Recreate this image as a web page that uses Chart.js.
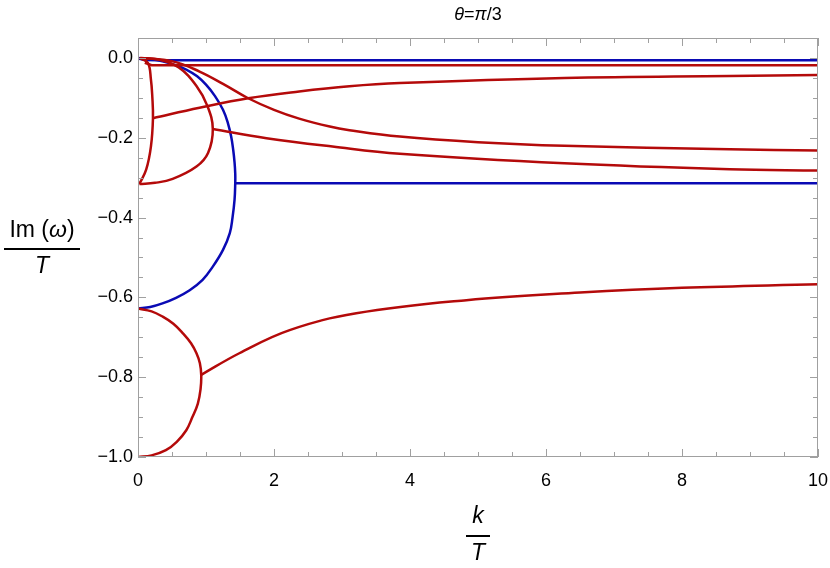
<!DOCTYPE html>
<html>
<head>
<meta charset="utf-8">
<script src="https://cdn.jsdelivr.net/npm/chart.js@4"></script>
<style>
  body { margin: 0; background: #fff; }
  #wrap { width: 830px; height: 568px; position: relative; }
</style>
</head>
<body>
<div id="wrap"><canvas id="qnm"></canvas></div>
<script>
// axis ranges and ticks
const xRange = [0, 10];
const yRange = [-1.0, 0.05];
const xMajorTicks = [0, 2, 4, 6, 8, 10];
const yMajorTicks = [-1.0, -0.8, -0.6, -0.4, -0.2, 0.0];
const xMinorStep = 0.5;
const yMinorStep = 0.05;

// blue branches, [k/T, Im(w)/T]
const blueTop = [[0, -0.001], [0.1, -0.005], [0.3, -0.006], [10, -0.006]];
const blueArc = [[0, 0], [0.2, -0.003], [0.36, -0.0085], [0.55, -0.018], [0.71, -0.029], [0.87, -0.046],
  [1.0, -0.067], [1.13, -0.095], [1.25, -0.13], [1.32, -0.162], [1.37, -0.197], [1.40, -0.23],
  [1.42, -0.262], [1.43, -0.29], [1.43, -0.314], [1.42, -0.355], [1.39, -0.40], [1.35, -0.439],
  [1.25, -0.481], [1.10, -0.523], [0.95, -0.556], [0.76, -0.582], [0.56, -0.601], [0.36, -0.615],
  [0.18, -0.624], [0, -0.628]];
const blueFlat = [[1.43, -0.314], [10, -0.314]];

// red branches
const redTop = [[0.1, -0.012], [0.2, -0.018], [10, -0.018]];
const redSmallArc = [[0.02, 0], [0.145, -0.0125], [0.19, -0.054], [0.21, -0.096], [0.22, -0.151],
  [0.19, -0.222], [0.12, -0.28], [0.02, -0.316]];
const redRise = [[0.22, -0.151], [0.905, -0.125], [1.62, -0.101], [2.37, -0.084], [3.11, -0.071],
  [3.85, -0.063], [6.27, -0.050], [8.7, -0.045], [10, -0.043]];
const redFall = [[0.03, 0], [0.51, -0.0085], [0.905, -0.034], [1.25, -0.065], [1.62, -0.101],
  [2.0, -0.13], [2.37, -0.152], [2.82, -0.172], [3.11, -0.181], [3.85, -0.197], [5.0, -0.211],
  [6.27, -0.220], [8.7, -0.229], [10, -0.232]];
const redBigArc = [[0.05, 0], [0.3, -0.004], [0.6, -0.024], [0.86, -0.07], [1.02, -0.12],
  [1.10, -0.178], [1.03, -0.238], [0.86, -0.272], [0.51, -0.303], [0.25, -0.313], [0.02, -0.316]];
const redMid = [[1.10, -0.178], [1.89, -0.201], [2.86, -0.222], [3.85, -0.240], [6.27, -0.264],
  [8.7, -0.279], [10, -0.282]];
const redLowArc = [[0, -0.628], [0.2, -0.635], [0.36, -0.648], [0.52, -0.666], [0.66, -0.690],
  [0.78, -0.715], [0.86, -0.740], [0.91, -0.765], [0.93, -0.795], [0.92, -0.83], [0.88, -0.866],
  [0.80, -0.90], [0.71, -0.933], [0.57, -0.962], [0.41, -0.983], [0.2, -0.996], [0, -1.0]];
const redLowRise = [[0.93, -0.794], [1.49, -0.740], [2.23, -0.682], [3.21, -0.640], [4.83, -0.607],
  [6.5, -0.588], [8.0, -0.576], [10, -0.567]];

const BLUE = '#0a0ab4';
const RED = '#b40a0a';
const FONT = '"Liberation Sans", Arial, sans-serif';

function series(points, color, tension) {
  return {
    data: points.map(p => ({ x: p[0], y: p[1] })),
    borderColor: color,
    borderWidth: 2.5,
    pointRadius: 0,
    showLine: true,
    fill: false,
    tension: tension
  };
}

const datasets = [
  series(redTop, RED, 0),
  series(redSmallArc, RED, 0.4),
  series(redRise, RED, 0.4),
  series(redFall, RED, 0.4),
  series(redBigArc, RED, 0.4),
  series(redMid, RED, 0.4),
  series(redLowArc, RED, 0.4),
  series(redLowRise, RED, 0.4),
  series(blueTop, BLUE, 0),
  series(blueArc, BLUE, 0.4),
  series(blueFlat, BLUE, 0)
];

function fmtY(v) {
  if (Math.abs(v) < 1e-9) return '0.0';
  return v.toFixed(1).replace('-', '\u2212');
}

// draw a row of (text, italic) pieces centred on cx
function drawPieces(ctx, parts, size, cx, cy) {
  let w = 0;
  parts.forEach(p => {
    ctx.font = (p[1] ? 'italic ' : '') + size + 'px ' + FONT;
    w += ctx.measureText(p[0]).width;
  });
  let x = cx - w / 2;
  ctx.textAlign = 'left';
  parts.forEach(p => {
    ctx.font = (p[1] ? 'italic ' : '') + size + 'px ' + FONT;
    ctx.fillText(p[0], x, cy);
    x += ctx.measureText(p[0]).width;
  });
}

// frame, inward ticks on all four sides, axis labels and title
const framePlugin = {
  id: 'frame',
  afterDraw(chart) {
    const ctx = chart.ctx;
    const a = chart.chartArea;
    const xs = chart.scales.x, ys = chart.scales.y;
    ctx.save();
    ctx.strokeStyle = '#a0a0a0';
    ctx.lineWidth = 1;
    ctx.strokeRect(a.left + 0.5, a.top + 0.5, a.right - a.left - 1, a.bottom - a.top - 1);

    ctx.beginPath();
    for (let v = xRange[0]; v <= xRange[1] + 1e-9; v += xMinorStep) {
      const px = Math.round(xs.getPixelForValue(v)) + 0.5;
      const len = xMajorTicks.some(t => Math.abs(t - v) < 1e-9) ? 8 : 5;
      ctx.moveTo(px, a.bottom); ctx.lineTo(px, a.bottom - len);
      ctx.moveTo(px, a.top); ctx.lineTo(px, a.top + len);
    }
    for (let v = yRange[0]; v <= yRange[1] + 1e-9; v += yMinorStep) {
      const py = Math.round(ys.getPixelForValue(v)) + 0.5;
      const len = yMajorTicks.some(t => Math.abs(t - v) < 1e-9) ? 8 : 5;
      ctx.moveTo(a.left, py); ctx.lineTo(a.left + len, py);
      ctx.moveTo(a.right, py); ctx.lineTo(a.right - len, py);
    }
    ctx.stroke();

    ctx.fillStyle = '#000';
    ctx.textBaseline = 'middle';

    // y label: Im(w) / T
    drawPieces(ctx, [['Im (', false], ['\u03c9', true], [')', false]], 23, 42, 231);
    ctx.fillRect(4, 248, 76, 2);
    drawPieces(ctx, [['T', true]], 23, 42, 267);

    // x label: k / T
    const cx = (a.left + a.right) / 2;
    drawPieces(ctx, [['k', true]], 23, cx, 517);
    ctx.fillRect(cx - 12, 535, 24, 2);
    drawPieces(ctx, [['T', true]], 23, cx, 554);

    // title
    drawPieces(ctx, [['\u03b8', true], ['=', false], ['\u03c0', true], ['/3', false]], 18, cx, 15);
    ctx.restore();
  }
};

new Chart(document.getElementById('qnm'), {
  type: 'scatter',
  data: { datasets: datasets },
  options: {
    responsive: true,
    maintainAspectRatio: false,
    animation: false,
    layout: { padding: { top: 38, right: 12, left: 0, bottom: 0 } },
    plugins: {
      legend: { display: false },
      tooltip: { enabled: false }
    },
    scales: {
      x: {
        type: 'linear',
        min: xRange[0],
        max: xRange[1],
        grid: { display: false, drawTicks: false },
        border: { display: false },
        afterFit: s => { s.height = 111; s.paddingLeft = 0; s.paddingRight = 0; },
        afterBuildTicks: s => { s.ticks = xMajorTicks.map(v => ({ value: v })); },
        ticks: {
          padding: 13,
          color: '#000',
          maxRotation: 0,
          font: { family: FONT, size: 18 },
          callback: v => String(Math.round(v))
        }
      },
      y: {
        type: 'linear',
        min: yRange[0],
        max: yRange[1],
        grid: { display: false, drawTicks: false },
        border: { display: false },
        afterFit: s => { s.width = 138; s.paddingTop = 0; s.paddingBottom = 0; },
        afterBuildTicks: s => { s.ticks = yMajorTicks.map(v => ({ value: v })); },
        ticks: {
          padding: 5,
          color: '#000',
          font: { family: FONT, size: 18 },
          callback: v => fmtY(v)
        }
      }
    }
  },
  plugins: [framePlugin]
});
</script>
</body>
</html>
